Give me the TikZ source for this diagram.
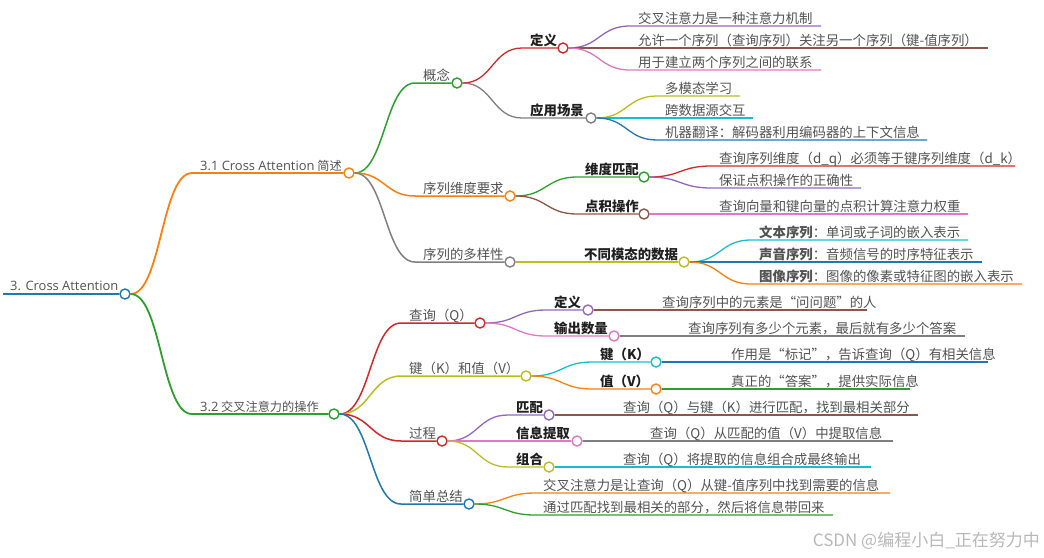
\documentclass[tikz,border=0pt]{standalone}
\usepackage{fontspec}
\setmainfont{Noto Sans CJK SC}
\newfontfamily\lat[Scale=1.06]{Open Sans}
\usetikzlibrary{calc}
\definecolor{mblue}{HTML}{1F77B4}
\definecolor{morange}{HTML}{FF7F0E}
\definecolor{mgreen}{HTML}{2CA02C}
\definecolor{mred}{HTML}{D62728}
\definecolor{mpurple}{HTML}{9467BD}
\definecolor{mbrown}{HTML}{8C564B}
\definecolor{mpink}{HTML}{E377C2}
\definecolor{mgray}{HTML}{7F7F7F}
\definecolor{molive}{HTML}{BCBD22}
\definecolor{mcyan}{HTML}{17BECF}

\begin{document}
\begin{tikzpicture}[
    x=1pt, y=-1pt,
    font=\fontsize{13.4}{16}\selectfont,
    txt/.style={anchor=base west, inner sep=0pt, text=black!68},
    top/.style={txt, font=\fontsize{12.2}{15}\selectfont},
    key/.style={txt, font=\fontsize{13.4}{16}\selectfont\bfseries, text=black!88},
    dot/.style={circle, draw=#1, fill=white, line width=1.4pt, minimum size=10pt, inner sep=0pt},
    link/.style={to path={let \p1=(\tikztostart), \p2=(\tikztotarget) in
      .. controls ({(\x1+\x2)/2},\y1) and ({(\x1+\x2)/2},\y2) .. (\tikztotarget)}},
    wm/.style={anchor=east, inner sep=0pt, text=black!28, font=\fontsize{17}{20}\selectfont},
  ]
  \useasboundingbox (0,0) rectangle (1044,557);
  % ------------------------------------------------------------------ root
  \coordinate (rootS) at (3,294);
  \node[dot=mblue] (root) at (125,294) {};
  \draw[mblue, line width=2.6pt] (rootS) -- (root);
  \node[top] (rootT) at (10,290) {\lat 3. Cross Attention};
  % ------------------------------------------------------------------ branches with a dot
  \foreach \nm/\pa/\tx/\ly/\xe/\co/\w/\st/\lab in {
      r1/root/200/173/349/morange/1.8pt/top/{{\lat 3.1 Cross Attention} 简述},
      r2/root/200/414/334/mgreen/1.8pt/top/{{\lat 3.2} 交叉注意力的操作},
      a1/r1/423/83/457/mgreen/1.5pt/txt/概念,
      a2/r1/423/196/510/morange/1.5pt/txt/序列维度要求,
      a3/r1/423/262/510/mgray/1.5pt/txt/序列的多样性,
      b1/a1/530/48/563/mred/1.3pt/key/定义,
      b2/a1/530/118/591/mgray/1.3pt/key/应用场景,
      b3/a2/585/177/644/mgreen/1.3pt/key/维度匹配,
      b4/a2/585/214/644/mbrown/1.3pt/key/点积操作,
      b5/a3/584/262/684/molive/1.3pt/key/不同模态的数据,
      c1/r2/409/323/480/mred/1.5pt/txt/查询（Q）,
      c2/r2/409/376/526/molive/1.5pt/txt/键（K）和值（V）,
      c3/r2/409/441/442/mred/1.5pt/txt/过程,
      c4/r2/409/504/469/mblue/1.5pt/txt/简单总结,
      d1/c1/554/310/588/mpurple/1.3pt/key/定义,
      d2/c1/554/336/614/mpink/1.3pt/key/输出数量,
      d3/c2/600/362/656/mcyan/1.3pt/key/键（K）,
      d4/c2/600/389/656/morange/1.3pt/key/值（V）,
      d5/c3/516/415/549/mpurple/1.3pt/key/匹配,
      d6/c3/516/441/577/mpink/1.3pt/key/信息提取,
      d7/c3/516/467/549/molive/1.3pt/key/组合
    } {
    \coordinate (\nm S) at ({\tx-8},\ly);
    \node[dot=\co] (\nm) at (\xe,\ly) {};
    \draw[\co, line width=\w] (\pa.east) to[link] (\nm S) -- (\nm);
    \node[\st] (\nm T) at (\tx,{\ly-3}) {\lab};
  }
  % ------------------------------------------------------------------ leaves
  \foreach \pa/\tx/\ly/\xe/\co/\lab [count=\i] in {
      b1/638/26/821/mpurple/交叉注意力是一种注意力机制,
      b1/638/48/988/mbrown/允许一个序列（查询序列）关注另一个序列（键-值序列）,
      b1/638/70/821/mpink/用于建立两个序列之间的联系,
      b2/665/96/740/molive/多模态学习,
      b2/665/118/753/mcyan/跨数据源交互,
      b2/665/140/927/mblue/机器翻译：解码器利用编码器的上下文信息,
      b3/719/166/1015/mred/查询序列维度（d\_q）必须等于键序列维度（d\_k）,
      b3/719/188/861/mpurple/保证点积操作的正确性,
      b4/719/214/968/mpink/查询向量和键向量的点积计算注意力权重,
      b5/759/240/968/mcyan/{\textbf{文本序列}：单词或子词的嵌入表示},
      b5/759/262/982/mblue/{\textbf{声音序列}：音频信号的时序特征表示},
      b5/759/284/1022/morange/{\textbf{图像序列}：图像的像素或特征图的嵌入表示},
      d1/662/310/867/mbrown/查询序列中的元素是“问问题”的人,
      d2/688/336/965/mgray/查询序列有多少个元素，最后就有多少个答案,
      d3/731/362/988/mblue/作用是“标记”，告诉查询（Q）有相关信息,
      d4/731/389/910/mgreen/真正的“答案”，提供实际信息,
      d5/623/415/918/mbrown/查询（Q）与键（K）进行匹配，找到最相关部分,
      d6/650/441/893/mgray/查询（Q）从匹配的值（V）中提取信息,
      d7/623/467/871/mcyan/查询（Q）将提取的信息组合成最终输出,
      c4/543/493/890/morange/交叉注意力是让查询（Q）从键-值序列中找到需要的信息,
      c4/543/515/833/mgreen/通过匹配找到最相关的部分，然后将信息带回来
    } {
    \coordinate (leaf\i S) at ({\tx-8},\ly);
    \coordinate (leaf\i E) at (\xe,\ly);
    \draw[\co, line width=1.3pt] (\pa.east) to[link] (leaf\i S) -- (leaf\i E);
    \node[txt] (leaf\i T) at (\tx,{\ly-3}) {\lab};
  }
  \node[wm] (mark) at (1040,541) {CSDN @编程小白\_正在努力中};
\end{tikzpicture}
\end{document}
